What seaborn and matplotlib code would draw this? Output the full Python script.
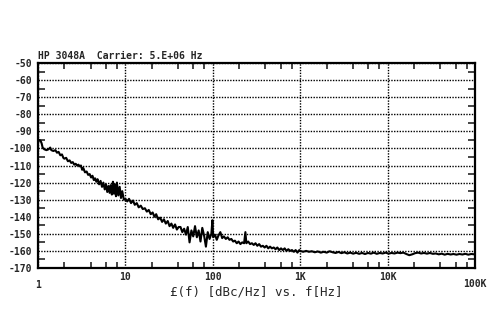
import matplotlib
matplotlib.use("Agg")
import matplotlib.pyplot as plt
import seaborn as sns
import pandas as pd
from matplotlib.ticker import FixedLocator, NullFormatter

freq_hz = [
    1.0, 1.03, 1.07, 1.1, 1.13, 1.18, 1.25, 1.32, 1.38, 1.42, 1.5, 1.58, 1.65, 1.72, 1.8, 1.88, 1.95, 2.0,
    2.1, 2.2, 2.3, 2.4, 2.5, 2.6, 2.7, 2.8, 2.9, 3.0, 3.1, 3.2, 3.3, 3.45, 3.6, 3.75, 3.9, 4.05, 4.2, 4.35,
    4.5, 4.65, 4.8, 5.0, 5.2, 5.4, 5.6, 5.8, 6.0, 6.2, 6.4, 6.6, 6.8, 7.0, 7.2, 7.4, 7.6, 7.8, 8.0, 8.3,
    8.6, 8.9, 9.2, 9.6, 10,
    10.5, 11, 11.6, 12.2, 12.8, 13.5, 14.2, 15, 15.8, 16.7, 17.6, 18.5, 19.5, 20.5, 21.5, 22.5, 23.7, 25,
    26.3, 27.6, 29, 30.5, 32, 33.6, 35.2, 37, 38.8, 40.7,
    42.7, 44.8, 47, 49.3, 51.7, 54.2, 56.9, 59.7, 62.6, 65.7, 68.9, 72.3, 75.8, 79.5, 83.4, 87.5, 91.8,
    96.3, 99, 101, 106, 111, 116, 122, 128,
    134, 141, 148, 155, 163, 171, 179, 188, 197, 207, 217, 228, 236, 242, 254, 267, 280, 294, 308, 323,
    339, 356, 374, 392, 411, 431, 452, 474, 498, 522, 548, 575, 603, 633, 664, 697, 731, 767, 805, 845,
    887, 930, 976, 1000,
    1080, 1170, 1260, 1360, 1470, 1590, 1720, 1860, 2010, 2170, 2350, 2540, 2740, 2960, 3200, 3460, 3740,
    4040, 4370, 4720, 5100, 5510, 5960, 6440, 6960, 7520, 8130, 8790, 9500, 10270, 11100, 12000, 12970,
    14020, 15150, 16380, 17700, 19130, 20680, 22350, 24160, 26110, 28220, 30500, 32970, 35630, 38510,
    41620, 44990, 48620, 52550, 56800, 61390, 66350, 71720, 77510, 83780, 90550, 97870, 100000,
]
noise_dbc = [
    -96.5, -95, -95.5, -97, -99.5, -100.5, -101, -100.5, -99.5, -101, -101.5, -101, -102.5, -102, -104, -103.5, -105.5, -106,
    -105.5, -107.5, -107, -108.5, -108, -109.5, -109, -110, -109.5, -110.5, -110, -112.5, -111.5, -114, -113.5, -115.5, -115, -117, -116, -118.5,
    -117.5, -119.5, -118, -121, -119, -122.5, -120, -124, -121, -125.5, -122, -126, -121.5, -127, -119.5, -126.5, -121, -128, -120, -127.5,
    -122.5, -129, -125, -130, -129.5,
    -131, -129.5, -132, -130.5, -133, -132, -134.5, -133.5, -135.5, -135, -137, -136, -138.5, -137.5, -140, -138.5, -141.5, -140.5,
    -143, -141.5, -144, -142.5, -145.5, -144, -146.5, -144.5, -147.5, -146,
    -146, -149, -147, -150.5, -146, -155, -148, -151.5, -145.5, -152, -148, -154.5, -146.5, -151, -157.5, -149, -153,
    -150, -142, -152, -150.5, -153.5, -151, -149, -152.5,
    -151.5, -153, -152, -153.5, -153, -154.5, -154, -155.5, -154.5, -156, -155, -155.5, -149, -155.5, -154.5, -156, -155.5, -156.5, -155.5, -157,
    -156, -157.5, -157, -158, -157, -158.5, -157.5, -158.5, -158, -159, -158, -159.5, -158.5, -159.5, -158.5, -160, -159, -160, -159.5, -160.5,
    -159.5, -161, -159.5, -160,
    -160.5, -160, -160.5, -160.2, -160.8, -160.3, -161, -160.5, -161, -160.2, -160.8, -161.2, -160.6, -161.3, -160.8, -161.5, -161,
    -161.6, -161.1, -161.7, -161.2, -161.8, -161.2, -161.6, -161, -161.7, -161.2, -161.5, -161, -161.6, -161.2, -161.5, -161,
    -161.3, -161, -161.8, -162.5, -162, -161.3, -161, -161.5, -161.2, -161.6, -161.2, -161.7, -161.5, -162,
    -161.6, -162.2, -161.7, -162.1, -161.8, -162.2, -161.8, -162.1, -161.7, -162.2, -161.8, -162, -161.8,
]
x_major = [1, 10, 100, 1000, 10000, 100000]
x_labels = ["1", "10", "100", "1K", "10K", "100K"]
y_major = list(range(-170, -49, 10))
y_minor = list(range(-165, -50, 10))
title_text = "HP 3048A  Carrier: 5.E+06 Hz"
xlabel_text = "£(f) [dBc/Hz] vs. f[Hz]"

sns.set_style("white")
plt.rcParams["font.family"] = ["DejaVu Sans Mono", "DejaVu Sans"]
plt.rcParams["axes.unicode_minus"] = False

df = pd.DataFrame({"f": freq_hz, "L": noise_dbc})
fig = plt.figure(figsize=(5, 3.09), dpi=100)
ax = fig.add_axes([0.076, 0.1327, 0.874, 0.6633])
sns.lineplot(data=df, x="f", y="L", ax=ax, color="black", lw=1.5, estimator=None, sort=False)
ax.set_xscale("log")
ax.set_xlim(1, 100000)
ax.set_ylim(-170, -50)

ax.xaxis.set_major_locator(FixedLocator(x_major))
ax.set_xticklabels(x_labels, fontsize=7, fontweight="bold")
minor_x = [d * m for d in x_major[:-1] for m in (2, 4, 6, 8)]
ax.xaxis.set_minor_locator(FixedLocator(minor_x))
ax.xaxis.set_minor_formatter(NullFormatter())
ax.set_yticks(y_major)
ax.set_yticklabels([str(v) for v in y_major], fontsize=7, fontweight="bold")
ax.yaxis.set_minor_locator(FixedLocator(y_minor))

ax.tick_params(axis="x", which="major", length=0, pad=3)
ax.tick_params(axis="x", which="minor", direction="in", length=4, width=1.2, top=True, bottom=True)
ax.tick_params(axis="y", which="major", length=0, pad=4)
ax.tick_params(axis="y", which="minor", direction="in", length=5, width=1.2, left=True, right=True)

ticks = ax.xaxis.get_major_ticks()
ticks[0].set_pad(9)
ticks[-1].set_pad(8)

ax.grid(True, which="major", color="black", linestyle=(0, (1, 1)), linewidth=1.0)
for s in ax.spines.values():
    s.set_visible(True)
    s.set_color("black")
    s.set_linewidth(1.6)

ax.set_xlabel(xlabel_text, fontsize=9)
ax.xaxis.set_label_coords(0.5, -0.085)
ax.set_ylabel("")
ax.set_title(title_text, fontsize=7, fontweight="bold", loc="left", pad=3)

fig.savefig("out.png", dpi=100, facecolor="white")
